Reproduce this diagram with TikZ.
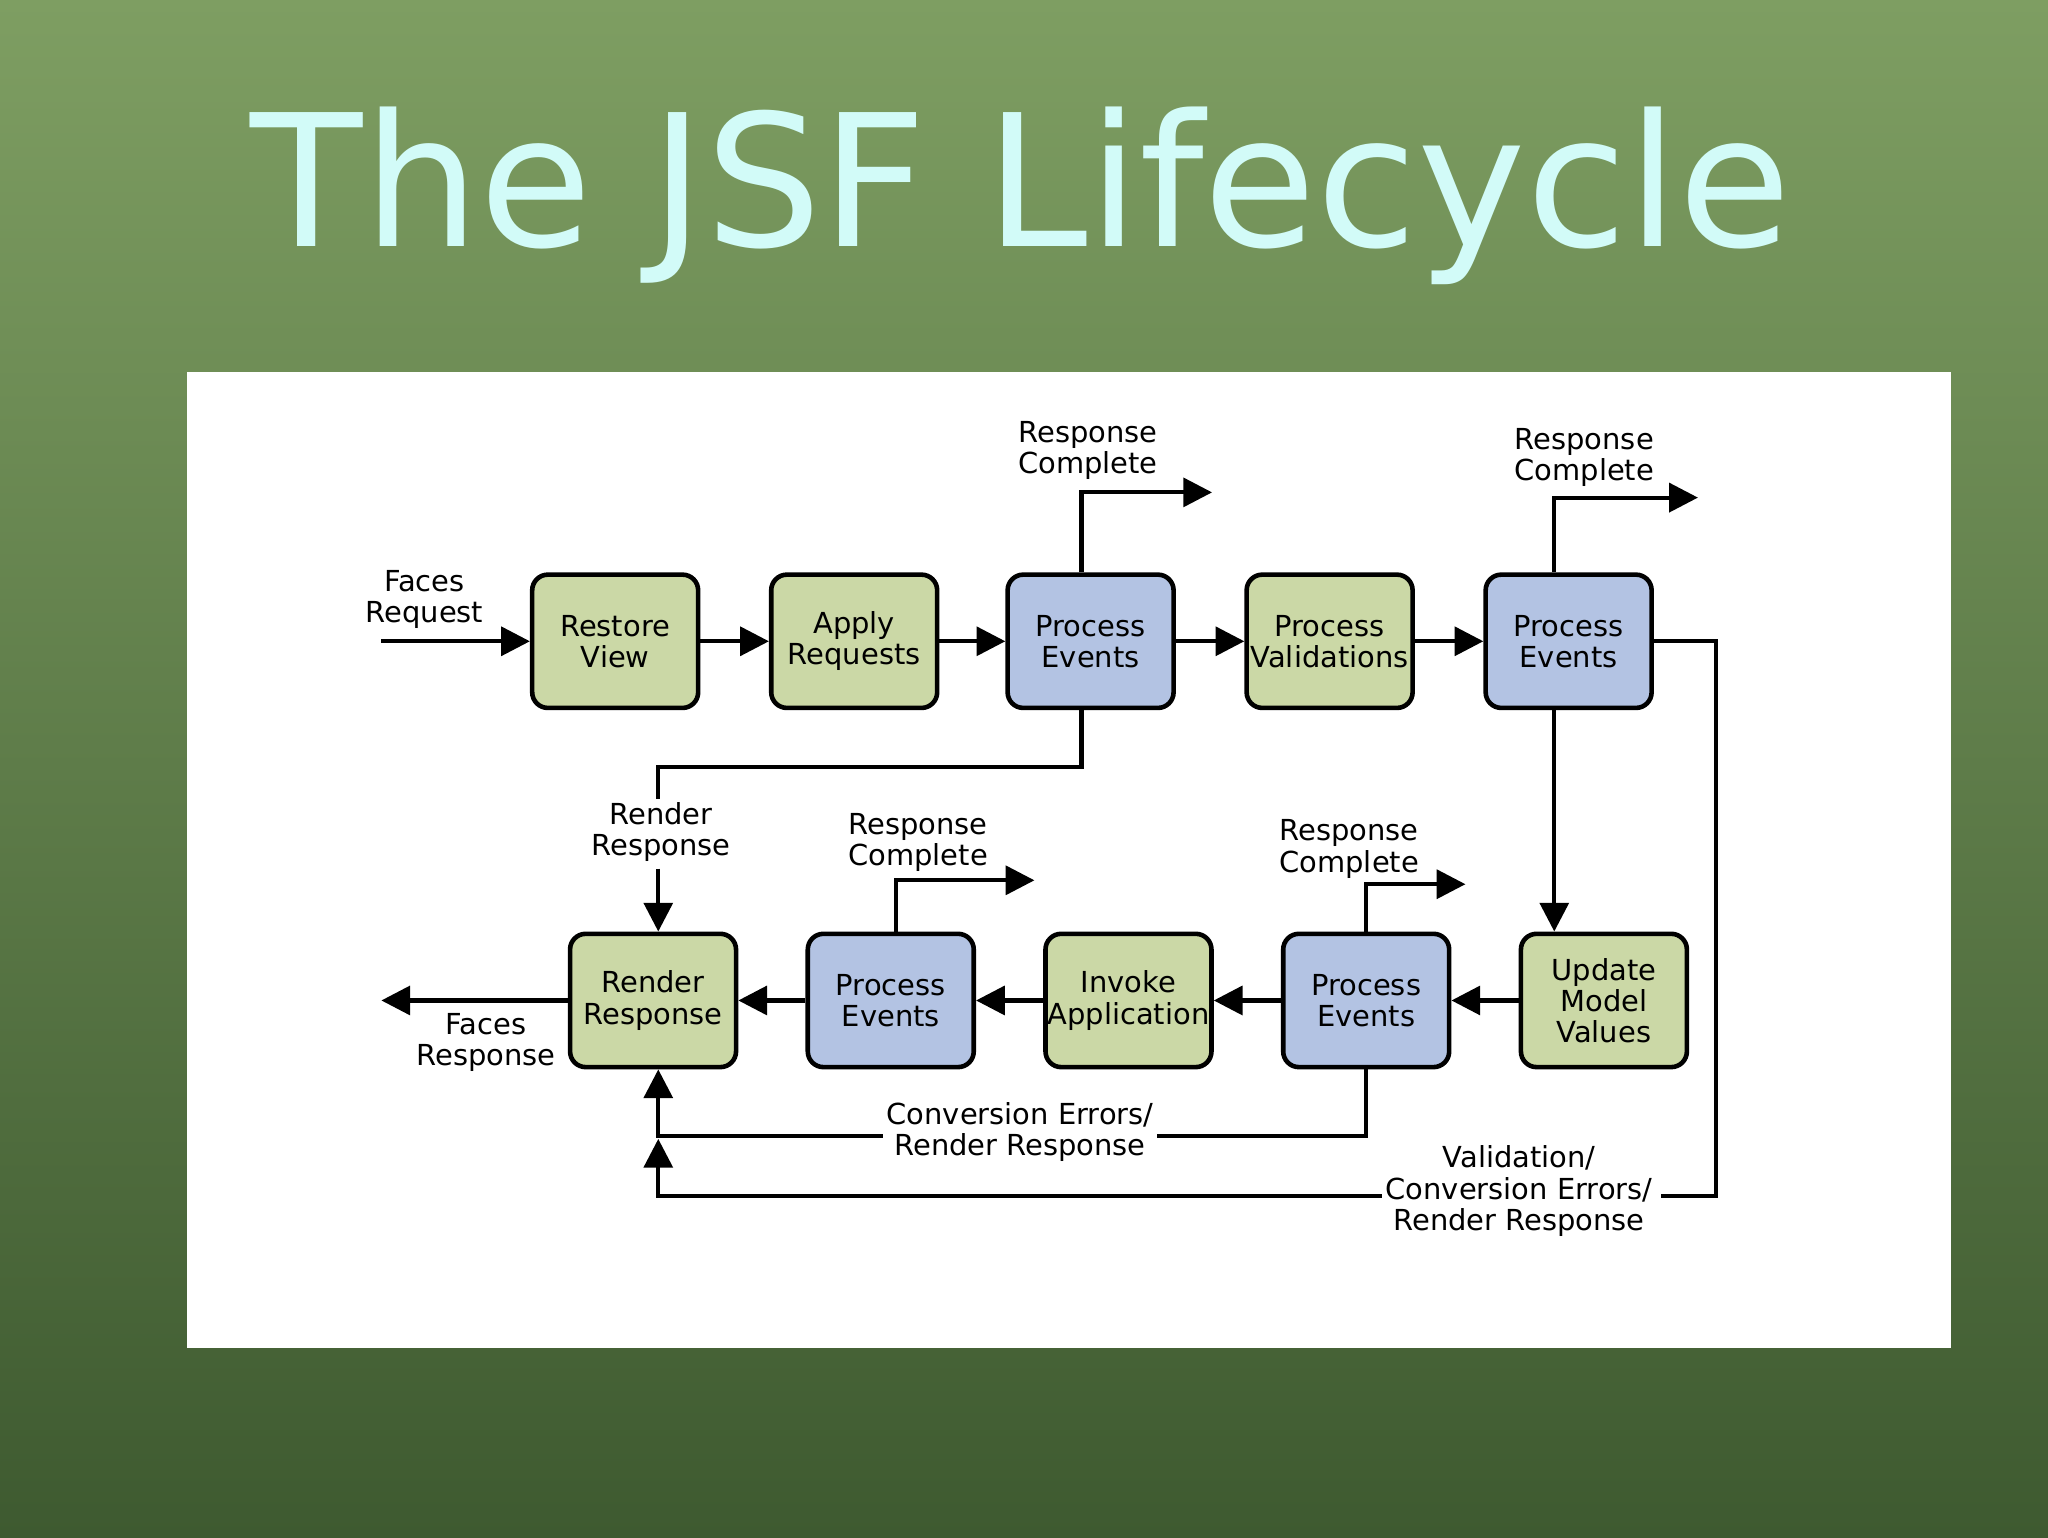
\documentclass[tikz,border=0pt]{standalone}
\usepackage{fontspec}
\setmainfont{DejaVu Sans}
\usetikzlibrary{arrows.meta,positioning}
\definecolor{phasegreen}{HTML}{CBD8A6}
\definecolor{phaseblue}{HTML}{B3C3E3}
\definecolor{leafdark}{HTML}{3E5A30}
\definecolor{leaflight}{HTML}{7E9E62}
\definecolor{titlecyan}{HTML}{D2FBF8}

\begin{document}
\begin{tikzpicture}[
    x=.01cm,
    y=-.01cm,
    phase/.style={
      draw=black,
      line width=1pt,
      rounded corners=.12cm,
      minimum width=1.27cm,
      minimum height=1.02cm,
      align=center,
      inner sep=0,
      font=\fontsize{6.3}{6.8}\selectfont,
    },
    green/.style={phase,fill=phasegreen},
    blue/.style={phase,fill=phaseblue},
    flow/.style={
      line width=.9pt,
      -{Triangle[length=.22cm,width=.22cm]},
    },
    line/.style={
      line width=.9pt,
    },
    flowlabel/.style={
      align=center,
      inner sep=1pt,
      font=\fontsize{6.3}{6.8}\selectfont,
    },
  ]
    \useasboundingbox (0,0) rectangle (1568,1177);
    \shade[top color=leaflight,bottom color=leafdark] (0,0) rectangle (1568,1177);
    \node[font=\fontsize{40}{40}\selectfont,text=titlecyan] (title) at (782,150) {The JSF Lifecycle};
    \fill[white] (143,285) rectangle (1494,1032);

    % top row
    \node[green] (restore) at (471,491) {Restore\\View};
    \node[green] (apply) at (654,491) {Apply\\Requests};
    \node[blue] (events1) at (835,491) {Process\\Events};
    \node[green] (valid) at (1018,491) {Process\\Validations};
    \node[blue] (events2) at (1201,491) {Process\\Events};

    % bottom row
    \node[green] (render) at (500,766) {Render\\Response};
    \node[blue] (events4) at (682,766) {Process\\Events};
    \node[green] (invoke) at (864,766) {Invoke\\Application};
    \node[blue] (events3) at (1046,766) {Process\\Events};
    \node[green] (update) at (1228,766) {Update\\Model\\Values};

    \coordinate (request) at (292,491);
    \coordinate (response) at (292,766);
    \coordinate (done1) at (928,377);
    \coordinate (done2) at (1300,381);
    \coordinate (done3) at (1122,677);
    \coordinate (done4) at (792,674);

    \draw[flow] (request) -- (restore);
    \node[flowlabel] (requestlabel) at (325,459) {Faces\\Request};
    \draw[flow] (restore) -- (apply);
    \draw[flow] (apply) -- (events1);
    \draw[flow] (events1) -- (valid);
    \draw[flow] (valid) -- (events2);
    \draw[flow] (events2.south -| 1190,0) -- (update.north -| 1190,0);

    \draw[flow] (update) -- (events3);
    \draw[flow] (events3) -- (invoke);
    \draw[flow] (invoke) -- (events4);
    \draw[flow] (events4) -- (render);
    \draw[flow] (render) -- (response);
    \node[flowlabel] (responselabel) at (372,798) {Faces\\Response};

    % response complete exits
    \draw[flow] (events1.north -| 828,0) |- (done1);
    \node[flowlabel] (donelabel1) at (833,345) {Response\\Complete};
    \draw[flow] (events2.north -| 1190,0) |- (done2);
    \node[flowlabel] (donelabel2) at (1213,350) {Response\\Complete};
    \draw[flow] (events3.north) |- (done3);
    \node[flowlabel] (donelabel3) at (1033,650) {Response\\Complete};
    \draw[flow] (events4.north -| 686,0) |- (done4);
    \node[flowlabel] (donelabel4) at (703,645) {Response\\Complete};

    % render response jumps
    \draw[line] (events1.south -| 828,0) |- (504,587) -- (504,612);
    \node[flowlabel] (renderlabel) at (506,637) {Render\\Response};
    \draw[flow] (504,665) -- (render.north -| 504,0);

    \draw[line] (events3.south) |- (886,870);
    \node[flowlabel] (convlabel) at (781,867) {Conversion Errors/\\Render Response};
    \draw[flow] (676,870) -| (render.south -| 504,0);

    \draw[line] (events2.east) -| (1314,916) -- (1272,916);
    \node[flowlabel] (validlabel) at (1163,912) {Validation/\\Conversion Errors/\\Render Response};
    \draw[flow] (1058,916) -| (504,872);
\end{tikzpicture}
\end{document}
